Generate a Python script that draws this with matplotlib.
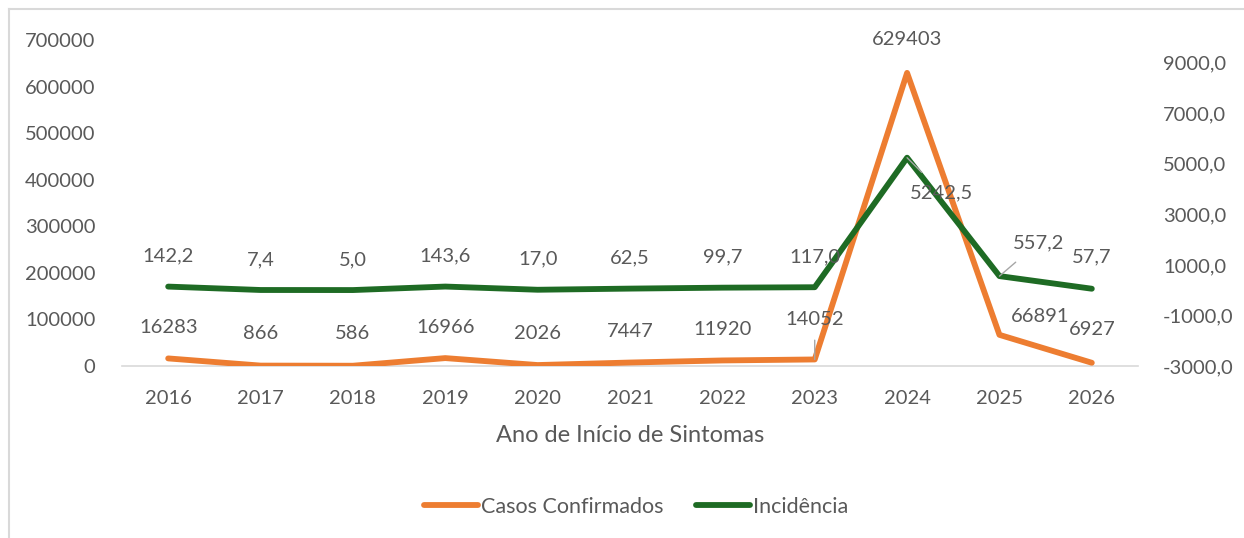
import numpy as np
import matplotlib.pyplot as plt
from matplotlib.lines import Line2D

plt.rcParams['font.family'] = ['Lato', 'DejaVu Sans']

anos = ['2016', '2017', '2018', '2019', '2020', '2021', '2022', '2023', '2024', '2025', '2026']
casos = [16283, 866, 586, 16966, 2026, 7447, 11920, 14052, 629403, 66891, 6927]
incidencia = [142.2, 7.4, 5.0, 143.6, 17.0, 62.5, 99.7, 117.0, 5242.5, 557.2, 57.7]

cor_casos = '#ED7D31'
cor_inc = '#1E6B24'
cinza = '#595959'

W, H = 1244, 538
fig = plt.figure(figsize=(W / 100, H / 100), dpi=100)
ax = fig.add_axes([122 / W, 1 - 366 / H, (1138 - 122) / W, (366 - 40) / H])
ax2 = ax.twinx()

x = np.arange(len(anos))
ax.plot(x, casos, color=cor_casos, lw=4.2, solid_capstyle='round', zorder=3)
ax2.plot(x, incidencia, color=cor_inc, lw=4.2, solid_capstyle='round', zorder=3)

ax.set_xlim(-0.5, len(anos) - 0.5)
ax.set_ylim(0, 700000)
ax.set_yticks(np.arange(0, 700001, 100000))
ax.set_yticklabels([str(v) for v in range(0, 700001, 100000)])
ax2.set_ylim(-3000, 9900)
rt = np.arange(-3000, 9001, 2000)
ax2.set_yticks(rt)
ax2.set_yticklabels([f'{v},0' for v in rt])

ax.set_xticks(x)
ax.set_xticklabels(anos)

fs = 14.5
for a in (ax, ax2):
    for s in a.spines.values():
        s.set_visible(False)
    a.tick_params(length=0, labelsize=fs, labelcolor=cinza)
ax.spines['bottom'].set_visible(True)
ax.spines['bottom'].set_color('#D9D9D9')
ax.spines['bottom'].set_linewidth(1.2)
ax.tick_params(axis='x', pad=17)
ax.tick_params(axis='y', pad=19)
ax2.tick_params(axis='y', pad=18)

ax.set_xlabel('Ano de Início de Sintomas', fontsize=17, color=cinza, labelpad=13)

# data labels: offsets in points (dx, dy)
off_casos = [(0, 22), (0, 23), (0, 23), (0, 22), (0, 23), (0, 22), (0, 22),
             (0, 29), (0, 24), (29, 13), (0, 24)]
off_inc = [(0, 22), (0, 22), (0, 22), (0, 22), (0, 22), (0, 22), (0, 22),
           (0, 22), (25, -25), (28, 24), (0, 23)]
leader_casos = {7: True}
leader_inc = {8: True, 9: True}

for i, (v, o) in enumerate(zip(casos, off_casos)):
    ap = dict(arrowstyle='-', color='#A6A6A6', lw=1, shrinkA=7, shrinkB=0) if i in leader_casos else None
    ax.annotate(str(v), (x[i], v), xytext=o, textcoords='offset points',
                ha='center', va='center', fontsize=fs, color=cinza, arrowprops=ap, zorder=5)

for i, (v, o) in enumerate(zip(incidencia, off_inc)):
    ap = dict(arrowstyle='-', color='#A6A6A6', lw=1, shrinkA=9, shrinkB=0) if i in leader_inc else None
    ax2.annotate(f'{v:.1f}'.replace('.', ','), (x[i], v), xytext=o, textcoords='offset points',
                 ha='center', va='center', fontsize=fs, color=cinza, arrowprops=ap, zorder=5)

handles = [Line2D([], [], color=cor_casos, lw=4.2, solid_capstyle='round'),
           Line2D([], [], color=cor_inc, lw=4.2, solid_capstyle='round')]
fig.legend(handles, ['Casos Confirmados', 'Incidência'], loc='center',
           bbox_to_anchor=(636 / W, 1 - 507 / H), ncol=2, frameon=False,
           fontsize=15.5, labelcolor=cinza, handlelength=2.5, handletextpad=0.15,
           columnspacing=1.5)

# chart area border (left and top visible)
fig.add_artist(Line2D([9 / W, 9 / W], [0, 1 - 9 / H], color='#D9D9D9', lw=1.5))
fig.add_artist(Line2D([9 / W, 1], [1 - 9 / H, 1 - 9 / H], color='#D9D9D9', lw=1.5))

fig.savefig('out.png', dpi=100)
